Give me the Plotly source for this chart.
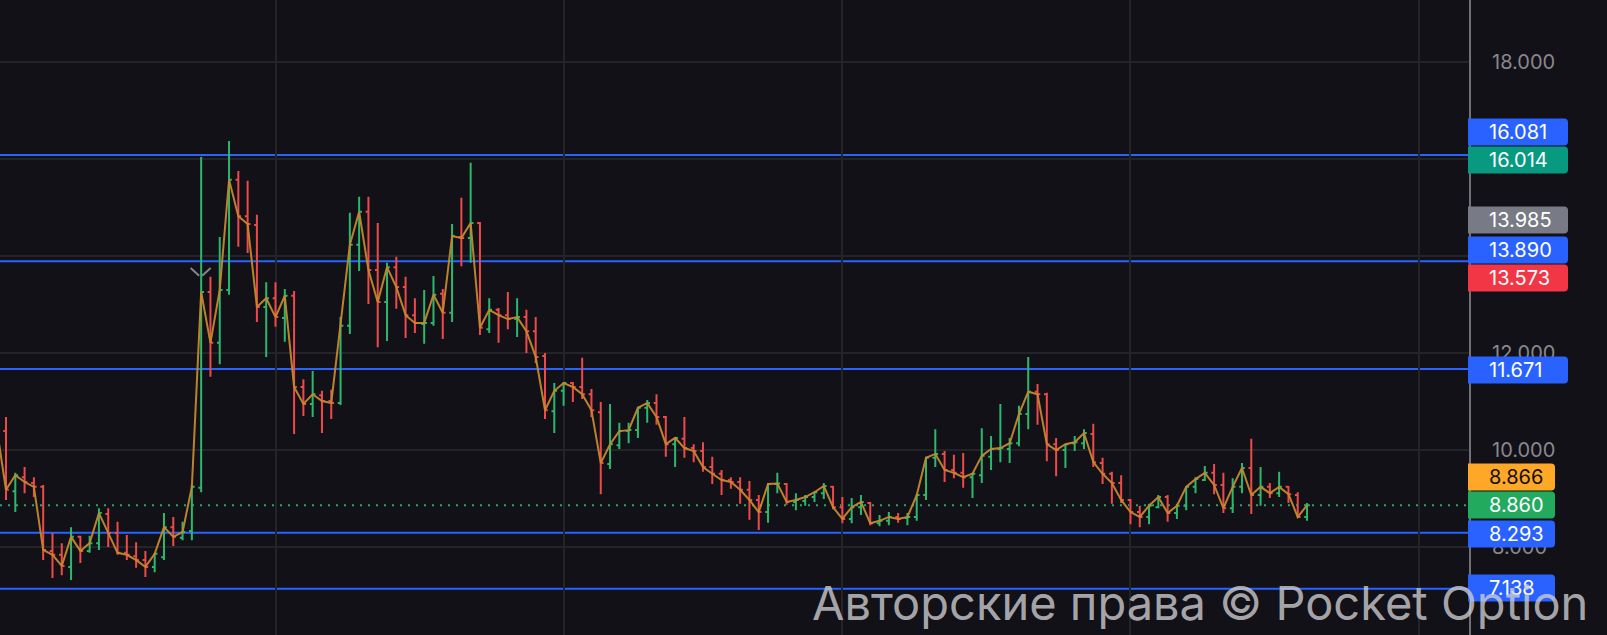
import plotly.graph_objects as go

# ---------------- data ----------------
opens = [10.20, 10.39, 9.15, 9.44, 9.32, 9.24, 7.92, 7.84, 7.59, 8.21,
         7.92, 8.08, 8.68, 8.29, 7.88, 7.81, 7.73, 7.59, 7.79, 8.41,
         8.19, 8.33, 9.22, 13.26, 12.21, 13.30, 15.57, 14.82, 14.64, 12.95,
         13.13, 12.72, 13.18, 11.30, 10.95, 11.13, 11.01, 10.97, 12.56, 14.23,
         14.91, 13.71, 13.05, 13.77, 13.36, 12.78, 12.60, 12.62, 13.22, 12.83,
         14.39, 14.37, 14.68, 12.49, 12.89, 12.78, 12.70, 12.74, 12.45, 11.94,
         10.80, 11.22, 11.38, 11.30, 11.15, 10.78, 9.71, 10.10, 10.39, 10.41,
         10.87, 10.97, 10.68, 10.12, 10.23, 10.04, 9.98, 9.65, 9.51, 9.38,
         9.34, 9.18, 8.97, 8.72, 9.30, 9.30, 8.93, 8.95, 9.03, 9.11,
         9.24, 8.82, 8.58, 8.82, 8.91, 8.49, 8.54, 8.62, 8.60, 8.62,
         9.07, 9.84, 9.92, 9.59, 9.53, 9.44, 9.48, 9.86, 10.02, 10.02,
         10.14, 10.74, 11.20, 11.15, 10.12, 10.00, 10.14, 10.14, 10.33, 9.73,
         9.51, 9.32, 8.97, 8.72, 8.62, 8.82, 9.03, 8.70, 8.85, 9.24,
         9.38, 9.53, 9.28, 8.80, 9.24, 9.63, 9.07, 9.24, 9.11, 9.24,
         9.07, 8.62]
highs = [10.60, 10.68, 9.53, 9.65, 9.44, 9.28, 8.29, 8.08, 8.41, 8.23,
         8.23, 8.80, 8.80, 8.52, 8.25, 8.10, 7.92, 7.88, 8.70, 8.62,
         8.52, 9.28, 16.04, 13.573, 14.39, 16.37, 15.75, 15.55, 14.85, 13.46,
         13.46, 13.32, 13.28, 11.46, 11.63, 11.22, 11.24, 12.74, 14.89, 15.22,
         15.22, 14.68, 13.86, 13.985, 13.57, 13.13, 13.30, 13.59, 13.32, 14.66,
         15.20, 15.92, 14.70, 13.13, 12.93, 13.26, 13.13, 12.89, 12.74, 12.00,
         11.38, 11.40, 11.40, 11.90, 11.26, 10.99, 10.95, 10.56, 10.56, 10.89,
         11.03, 11.15, 10.70, 10.27, 10.68, 10.12, 10.16, 9.86, 9.59, 9.44,
         9.44, 9.36, 9.07, 9.32, 9.53, 9.32, 9.11, 9.07, 9.15, 9.32,
         9.26, 9.03, 9.01, 9.07, 8.93, 8.66, 8.72, 8.70, 8.70, 9.09,
         9.86, 10.43, 9.98, 9.90, 9.94, 9.53, 10.45, 10.29, 10.95, 10.25,
         10.91, 11.92, 11.36, 11.18, 10.25, 10.12, 10.29, 10.43, 10.54, 9.84,
         9.55, 9.48, 8.99, 8.85, 8.89, 9.07, 9.07, 8.89, 9.26, 9.44,
         9.67, 9.71, 9.53, 9.42, 9.73, 10.23, 9.65, 9.32, 9.55, 9.26,
         9.13, 8.91]
lows = [10.05, 8.97, 8.72, 9.11, 9.03, 7.73, 7.36, 7.42, 7.32, 7.67,
        7.88, 7.94, 8.00, 7.84, 7.73, 7.57, 7.38, 7.48, 7.73, 8.02,
        8.14, 8.14, 9.13, 11.51, 11.77, 13.20, 14.19, 14.06, 12.64, 11.92,
        12.54, 12.23, 10.33, 10.70, 10.68, 10.35, 10.64, 10.93, 12.39, 13.69,
        13.01, 12.12, 12.25, 12.91, 12.31, 12.41, 12.19, 12.56, 12.29, 12.64,
        13.79, 13.86, 12.37, 12.41, 12.21, 12.49, 12.33, 12.00, 11.79, 10.64,
        10.35, 10.91, 10.99, 11.05, 10.68, 9.09, 9.61, 10.02, 10.14, 10.25,
        10.56, 10.52, 9.86, 9.65, 9.84, 9.75, 9.55, 9.30, 9.07, 9.20,
        8.89, 8.56, 8.35, 8.50, 9.11, 8.87, 8.76, 8.85, 8.93, 8.99,
        8.78, 8.49, 8.49, 8.66, 8.45, 8.43, 8.45, 8.50, 8.45, 8.54,
        8.97, 9.65, 9.34, 9.42, 9.22, 9.01, 9.32, 9.59, 9.75, 9.73,
        10.08, 10.43, 10.52, 9.77, 9.46, 9.63, 9.98, 10.02, 9.65, 9.30,
        8.89, 8.91, 8.47, 8.41, 8.47, 8.80, 8.52, 8.58, 8.76, 9.11,
        9.36, 9.09, 8.70, 8.70, 9.11, 8.68, 8.85, 9.01, 9.03, 8.91,
        8.60, 8.54]
closes = [10.45, 9.18, 9.48, 9.34, 9.24, 7.94, 7.84, 7.61, 8.21, 7.92,
          8.08, 8.70, 8.29, 7.88, 7.84, 7.73, 7.59, 7.86, 8.41, 8.21,
          8.31, 9.24, 13.26, 12.21, 13.30, 15.57, 14.82, 14.66, 12.95, 13.13,
          12.74, 13.18, 11.30, 10.95, 11.15, 11.01, 10.97, 12.56, 14.23, 14.91,
          13.71, 13.05, 13.77, 13.36, 12.78, 12.62, 12.62, 13.20, 12.83, 14.41,
          14.37, 14.68, 12.52, 12.89, 12.78, 12.70, 12.74, 12.45, 11.92, 10.82,
          11.22, 11.38, 11.30, 11.15, 10.82, 9.73, 10.12, 10.39, 10.41, 10.87,
          10.97, 10.68, 10.12, 10.25, 10.04, 9.98, 9.65, 9.51, 9.38, 9.34,
          9.18, 8.97, 8.72, 9.30, 9.31, 8.93, 8.97, 9.03, 9.13, 9.26,
          8.82, 8.58, 8.82, 8.93, 8.49, 8.54, 8.62, 8.58, 8.62, 9.07,
          9.84, 9.92, 9.59, 9.53, 9.44, 9.51, 9.88, 10.02, 10.04, 10.14,
          10.74, 11.20, 11.15, 10.12, 10.00, 10.12, 10.16, 10.35, 9.75, 9.51,
          9.32, 8.97, 8.72, 8.62, 8.85, 9.03, 8.70, 8.85, 9.24, 9.40,
          9.53, 9.28, 8.80, 9.24, 9.63, 9.07, 9.24, 9.11, 9.24, 9.09,
          8.62, 8.86]
bar_index = list(range(len(closes)))

level_values = [16.081, 13.890, 11.671, 8.293, 7.138]
last_price = 8.860
marker_bar = 22
marker_level = 13.573

y_tick_values = [8, 10, 12, 14, 16, 18]
y_tick_labels = ["8.000", "10.000", "12.000", "", "", "18.000"]  # 14/16 are hidden under badges
x_grid_values = [30, 61, 91, 122, 153]

badge_labels = ["16.081", "16.014", "13.985", "13.890", "13.573",
                "11.671", "8.866", "8.860", "8.293", "7.138"]
badge_colors = ["#2962ff", "#089981", "#787b86", "#2962ff", "#f23645",
                "#2962ff", "#ffa726", "#22ab5f", "#2962ff", "#2962ff"]
badge_text_colors = ["#ffffff"] * 6 + ["#111111"] + ["#ffffff"] * 3

watermark = "Авторские права © Pocket Option"

# ---------------- layout constants ----------------
W, H = 1607, 635
PLOT_W = 1469
X_RANGE = [0.354, 158.43]
Y_RANGE = [6.186, 19.278]
BG = "#121117"
GREEN = "#2cb86c"
RED = "#ee4a4a"
GRID = "#232328"
FONT = "Inter"

# badge vertical centres (pixels from top) - label stacking positions
badge_center_px = [132, 160, 220, 250, 278, 370, 477, 505, 534, 588]

fig = go.Figure()

fig.add_trace(go.Ohlc(
    x=bar_index, open=opens, high=highs, low=lows, close=closes,
    increasing=dict(line=dict(color=GREEN, width=2)),
    decreasing=dict(line=dict(color=RED, width=2)),
    tickwidth=0.3, hoverinfo="skip", showlegend=False,
))
fig.add_trace(go.Scatter(
    x=bar_index, y=closes, mode="lines",
    line=dict(color="rgba(198,136,46,0.95)", width=2),
    hoverinfo="skip", showlegend=False,
))

shapes = []
for lv in level_values:
    shapes.append(dict(type="line", xref="paper", yref="y", x0=0, x1=1, y0=lv, y1=lv,
                       line=dict(color="#2962ff", width=2), layer="below"))
shapes.append(dict(type="line", xref="paper", yref="y", x0=0, x1=1,
                   y0=last_price, y1=last_price,
                   line=dict(color="#22ab5f", width=2, dash="2px,6px"), layer="below"))

# chevron marker (pixel offsets converted to data units)
ppb = PLOT_W / (X_RANGE[1] - X_RANGE[0])
ppu = H / (Y_RANGE[1] - Y_RANGE[0])
def dx(px):
    return px / ppb
def dy(px):
    return px / ppu
mx, my = marker_bar, marker_level
shapes.append(dict(type="line", xref="x", yref="y",
                   x0=mx - dx(10.5), y0=my + dy(8.7), x1=mx - dx(2), y1=my + dy(1),
                   line=dict(color="#85858c", width=2)))
shapes.append(dict(type="line", xref="x", yref="y",
                   x0=mx + dx(1), y0=my + dy(1), x1=mx + dx(9.5), y1=my + dy(8.7),
                   line=dict(color="#85858c", width=2)))

annotations = []
# price badges on the right scale
for lab, col, tcol, cy in zip(badge_labels, badge_colors, badge_text_colors, badge_center_px):
    wpx = 99 if len(lab) == 6 else 86
    x0 = 1.0 - 1.0 / PLOT_W
    x1 = 1.0 + wpx / PLOT_W
    y0 = 1 - (cy + 13.5) / H
    y1 = 1 - (cy - 13.5) / H
    rx = 4 / PLOT_W
    ry = 4 / H
    path = (f"M {x0},{y0} L {x1 - rx},{y0} Q {x1},{y0} {x1},{y0 + ry} "
            f"L {x1},{y1 - ry} Q {x1},{y1} {x1 - rx},{y1} L {x0},{y1} Z")
    shapes.append(dict(type="path", xref="paper", yref="paper", path=path,
                       fillcolor=col, line=dict(width=0), layer="above"))
    annotations.append(dict(xref="paper", yref="paper", x=1487 / PLOT_W, y=1 - cy / H,
                            xanchor="left", yanchor="middle", text=lab, showarrow=False,
                            font=dict(family=FONT, size=20, color=tcol)))

annotations.append(dict(xref="paper", yref="paper", x=1590 / PLOT_W, y=1 - 602 / H,
                        xanchor="right", yanchor="middle", text=watermark, showarrow=False,
                        font=dict(family=FONT, size=47, color="rgba(205,205,208,0.80)")))

fig.update_layout(
    width=W, height=H,
    margin=dict(l=0, r=W - PLOT_W, t=0, b=0, pad=0),
    paper_bgcolor=BG, plot_bgcolor=BG,
    shapes=shapes, annotations=annotations,
    showlegend=False,
    xaxis=dict(range=X_RANGE, showticklabels=False, tickvals=x_grid_values,
               showgrid=True, gridcolor=GRID, gridwidth=2, zeroline=False,
               rangeslider=dict(visible=False), fixedrange=True),
    yaxis=dict(range=Y_RANGE, side="right", tickvals=y_tick_values, ticktext=y_tick_labels,
               showgrid=True, gridcolor=GRID, gridwidth=2,
               zeroline=False, showline=True, linecolor="#707076", linewidth=2,
               ticks="", ticklabelstandoff=17,
               tickfont=dict(family=FONT, size=20, color="#88888e"),
               fixedrange=True),
)

fig.write_html("out.html", config={"displayModeBar": False},
               post_script="document.body.style.margin='0';document.body.style.overflow='hidden';")
